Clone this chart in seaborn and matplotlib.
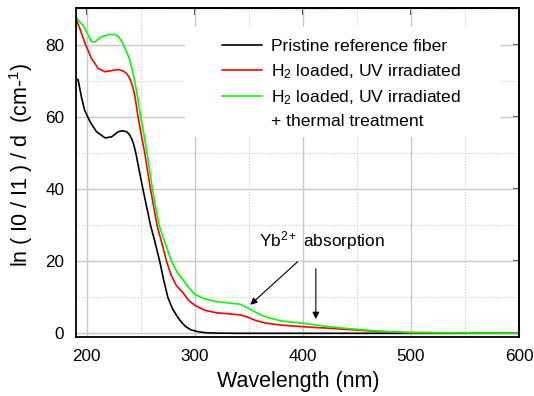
import numpy as np
import pandas as pd
import matplotlib
matplotlib.use("Agg")
import matplotlib.pyplot as plt
import seaborn as sns
from matplotlib.ticker import AutoMinorLocator
from matplotlib.lines import Line2D
from matplotlib.patches import Rectangle

# ---------------- data ----------------
black_wl = [190, 192, 195, 198, 203, 209, 217, 223, 229, 233, 237, 239, 241, 243, 244.5, 246,
            248, 252, 255.5, 259, 263, 267.5, 271, 275, 279, 283, 287, 291, 296, 302, 310,
            320, 340, 400, 500, 600]
black_val = [70.8, 70.4, 65.7, 62.0, 58.8, 56.0, 54.3, 54.6, 56.0, 56.3, 56.0, 55.4, 54.4,
             52.9, 51.2, 49.2, 46.0, 40.0, 35.0, 30.0, 25.5, 20.0, 15.0, 10.0, 7.0, 5.0,
             3.3, 2.0, 1.0, 0.5, 0.15, 0.05, 0.0, 0.0, 0.0, 0.0]

red_wl = [190, 193.5, 199, 204.3, 210.5, 216.7, 223, 229, 233.6, 236.5, 238.5, 240.5, 242.5,
          244.5, 247.5, 250.5, 253.7, 256.3, 259, 262, 265, 269.5, 273.8, 278, 283, 289,
          294, 300, 309, 320, 332, 342, 348, 351, 356, 363, 369, 379, 390, 400, 412, 425,
          437, 450, 460, 471, 485, 500, 550, 600]
red_val = [87.5, 84.7, 80.1, 76.4, 73.6, 72.7, 73.0, 73.3, 72.9, 72.3, 71.5, 70.3, 68.5,
           66.0, 60.0, 55.0, 50.0, 45.0, 40.0, 35.0, 30.0, 25.0, 20.0, 16.2, 13.2, 11.3,
           9.2, 7.8, 6.4, 5.7, 5.4, 5.1, 4.6, 4.2, 3.6, 3.0, 2.7, 2.3, 2.05, 1.85, 1.6,
           1.4, 1.15, 0.9, 0.7, 0.5, 0.3, 0.2, 0.1, 0.05]

green_wl = [189.5, 192, 196.6, 199.7, 204.4, 207.4, 213.6, 221.3, 225.9, 228.5, 230.6, 233,
            235.2, 237.5, 239.8, 242, 244, 246, 248, 250, 253, 255.8, 258.3, 260.8, 263.8,
            266.9, 271.5, 278.4, 283.5, 289.2, 294, 300, 307.7, 320, 332, 341.7, 349.4,
            355, 360, 363.3, 369, 378.7, 390, 400, 412, 425, 437, 450, 460, 471, 485,
            500, 550, 600]
green_val = [88.4, 87.0, 85.6, 83.8, 81.0, 81.0, 82.4, 83.1, 83.0, 82.6, 81.9, 80.7,
             79.2, 77.7, 75.9, 73.3, 70.5, 67.3, 63.8, 60.0, 55.0, 50.0, 45.0, 40.0, 35.0,
             30.0, 26.0, 20.0, 17.0, 14.8, 12.8, 10.8, 9.7, 8.8, 8.4, 8.1, 7.0, 6.0, 5.3,
             4.8, 4.3, 3.5, 3.1, 2.8, 2.3, 1.8, 1.45, 1.1, 0.85, 0.6, 0.4, 0.2, 0.1, 0.05]

labels = ["Pristine reference fiber",
          "H$_2$ loaded, UV irradiated",
          "H$_2$ loaded, UV irradiated"]
extra_label = "+ thermal treatment"
colors = ["#000000", "#ff0000", "#00ff00"]
x_ticks = [200, 300, 400, 500, 600]
y_ticks = [0, 20, 40, 60, 80]

df = pd.concat([
    pd.DataFrame({"wl": black_wl, "val": black_val, "sample": "s0"}),
    pd.DataFrame({"wl": red_wl, "val": red_val, "sample": "s1"}),
    pd.DataFrame({"wl": green_wl, "val": green_val, "sample": "s2"}),
], ignore_index=True)

# ---------------- style ----------------
sns.set_style("white")
plt.rcParams["font.family"] = ["Liberation Sans", "DejaVu Sans"]
plt.rcParams["mathtext.fontset"] = "custom"
plt.rcParams["mathtext.rm"] = "Liberation Sans"
plt.rcParams["mathtext.it"] = "Liberation Sans:italic"
plt.rcParams["mathtext.bf"] = "Liberation Sans:bold"
plt.rcParams["mathtext.default"] = "regular"
plt.rcParams["text.color"] = "black"
plt.rcParams["axes.labelcolor"] = "black"
plt.rcParams["xtick.color"] = "black"
plt.rcParams["ytick.color"] = "black"

fig = plt.figure(figsize=(5.34, 3.96), dpi=100)
ax = fig.add_axes([0.1423, 0.1497, 0.8296, 0.8301])

sns.lineplot(data=df, x="wl", y="val", hue="sample", hue_order=["s0", "s1", "s2"],
             palette=colors, estimator=None, sort=False, lw=1.2, legend=False, ax=ax)

ax.set_xlim(190, 600)
ax.set_ylim(-0.95, 90.4)
ax.set_xticks(x_ticks)
ax.set_yticks(y_ticks)
ax.xaxis.set_minor_locator(AutoMinorLocator(2))
ax.yaxis.set_minor_locator(AutoMinorLocator(2))

ax.set_axisbelow(True)
ax.grid(which="major", color="#c8c8c8", lw=1.0, ls="-")
ax.grid(which="minor", color="#c8c8c8", lw=0.8, ls=(0, (1, 1.5)))

for s in ax.spines.values():
    s.set_color("black")
    s.set_linewidth(1.3)

ax.tick_params(axis="both", which="major", direction="out", labelsize=12.3,
               color="black", width=1.1, labelcolor="black", top=False, right=False)
ax.tick_params(axis="x", which="major", length=4, pad=5)
ax.tick_params(axis="y", which="major", length=5.5, pad=3)
ax.tick_params(axis="both", which="minor", direction="out", length=2.5, width=1.0,
               color="black", top=False, right=False)

# top and right ticks pointing inward, majors only
secx = ax.secondary_xaxis("top")
secx.set_xticks(x_ticks)
secx.tick_params(direction="in", length=5, width=1.1, labeltop=False, color="black")
secx.spines["top"].set_linewidth(1.3)
secy = ax.secondary_yaxis("right")
secy.set_yticks(y_ticks)
secy.tick_params(direction="in", length=4, width=1.1, labelright=False, color="black")
secy.spines["right"].set_linewidth(1.3)

ax.set_xlabel("Wavelength (nm)", fontsize=15.5, color="black")
ax.set_ylabel("ln ( I0 / I1 ) / d  (cm-$^{1}$)", fontsize=15.5, color="black")
ax.xaxis.set_label_coords(0.501, -0.105)
ax.yaxis.set_label_coords(-0.093, 0.522)

# white legend background
ax.add_patch(Rectangle((0.246, 0.6075), 0.711, 0.3355, transform=ax.transAxes,
                       facecolor="white", edgecolor="none", zorder=1))

lines = ax.get_lines()[:3]
handles = list(lines) + [Line2D([], [], color="none")]
leg = ax.legend(handles, labels + [extra_label], loc="upper left",
                bbox_to_anchor=(0.329, 0.905), frameon=False, fontsize=12.6,
                borderpad=0, borderaxespad=0, handlelength=2.3, handletextpad=0.52,
                labelspacing=0.42)
for t in leg.get_texts():
    t.set_color("black")

# annotations
ax.text(417.3, 25.7, "Yb$^{2+}$ absorption", fontsize=12.4, ha="center", va="center",
        color="black")
ax.annotate("", xy=(349.4, 7.4), xytext=(397, 20.4),
            arrowprops=dict(arrowstyle="-|>", color="black", lw=0.8, mutation_scale=10))
ax.annotate("", xy=(412, 3.2), xytext=(412, 18.7),
            arrowprops=dict(arrowstyle="-|>", color="black", lw=0.8, mutation_scale=10))

fig.savefig("out.png", dpi=100)
